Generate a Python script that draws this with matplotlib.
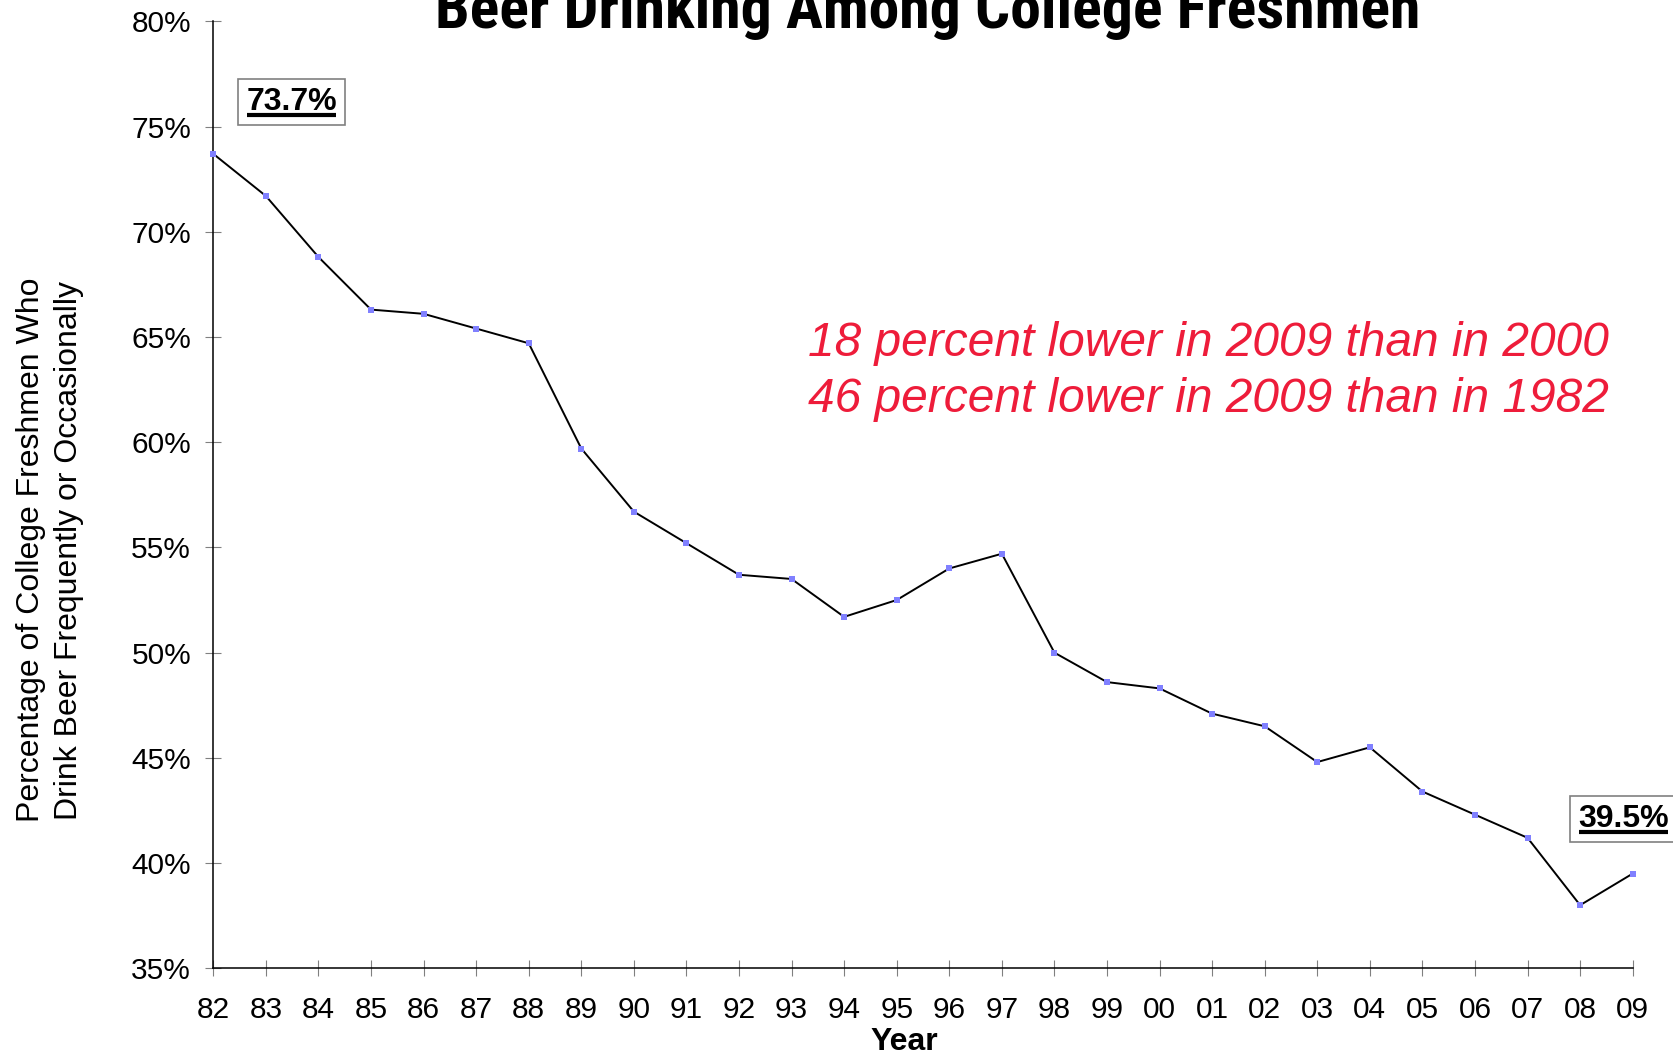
import numpy as np
import matplotlib
matplotlib.use("Agg")
import matplotlib.pyplot as plt
from matplotlib.lines import Line2D
import matplotlib.ticker as mtick

plt.rcParams["font.family"] = ["Liberation Sans", "DejaVu Sans"]

years = ["82", "83", "84", "85", "86", "87", "88", "89", "90", "91",
         "92", "93", "94", "95", "96", "97", "98", "99", "00", "01",
         "02", "03", "04", "05", "06", "07", "08", "09"]
pct = [73.7, 71.7, 68.8, 66.3, 66.1, 65.4, 64.7, 59.7, 56.7, 55.2,
       53.7, 53.5, 51.7, 52.5, 54.0, 54.7, 50.0, 48.6, 48.3, 47.1,
       46.5, 44.8, 45.5, 43.4, 42.3, 41.2, 38.0, 39.5]
y_ticks = [35, 40, 45, 50, 55, 60, 65, 70, 75, 80]
notes = ["18 percent lower in 2009 than in 2000",
         "46 percent lower in 2009 than in 1982"]

W, H = 1674, 1056
fig = plt.figure(figsize=(W / 100, H / 100), dpi=100)
ax = fig.add_axes([213.3 / W, 1 - 968.3 / H, (1632.7 - 213.3) / W, (968.3 - 21.3) / H])

x = np.arange(len(years))
ax.plot(x, pct, color="black", lw=1.4, marker="s", ms=4.8,
        mfc="#8080ff", mec="#8080ff", mew=0, zorder=3, clip_on=False)

ax.set_xlim(0, len(years) - 1)
ax.set_ylim(y_ticks[0], y_ticks[-1])
ax.set_xticks(x)
ax.set_xticklabels(years)
ax.set_yticks(y_ticks)
ax.yaxis.set_major_formatter(mtick.FuncFormatter(lambda v, p: f"{v:.0f}%"))

for side in ["top", "right"]:
    ax.spines[side].set_visible(False)
for side in ["left", "bottom"]:
    ax.spines[side].set_linewidth(1.1)
ax.tick_params(direction="inout", length=12, width=0.8, color="#808080", labelsize=21.5)
ax.tick_params(axis="x", pad=14)
ax.tick_params(axis="y", pad=10)

ax.set_ylabel("Percentage of College Freshmen Who\nDrink Beer Frequently or Occasionally",
              fontsize=23, va="center", ha="center", linespacing=1.35)
ax.yaxis.set_label_coords(-0.115, 0.4415)
ax.set_xlabel("Year", fontsize=23, fontweight="bold", va="center")
ax.xaxis.set_label_coords(0.487, -0.078)

# condensed title; size is fitted to the width it takes in the original
title = fig.text(0.554, 0.9735, "Beer Drinking Among College Freshmen",
                 family=["Roboto Condensed", "Liberation Sans Narrow", "DejaVu Sans Condensed",
                         "Liberation Sans"],
                 fontstretch="condensed", fontweight="bold", fontsize=40,
                 ha="center", va="baseline")

for i, line in enumerate(notes):
    ax.text(0.9833, 0.6600 - i * 0.0592, line, transform=ax.transAxes,
            ha="right", va="center", fontsize=34.5, style="italic", color="#ee1c3a")

box = dict(boxstyle="square,pad=0.26", fc="white", ec="#808080", lw=1.2)
labels = [
    ax.text(1.49, 76.16, f"{pct[0]}%", ha="center", va="center", fontsize=23,
            fontweight="bold", bbox=box, clip_on=False),
    ax.text(26.82, 42.09, f"{pct[-1]}%", ha="center", va="center", fontsize=23,
            fontweight="bold", bbox=box, clip_on=False),
]

fig.canvas.draw()
r = fig.canvas.get_renderer()
tw = title.get_window_extent(renderer=r).width
title.set_fontsize(40 * 984 / tw)

# underline the two value labels
for t in labels:
    bb = t.get_window_extent(renderer=r)
    yb = bb.y0 + 0.07 * bb.height
    fig.add_artist(Line2D([bb.x0 + 1, bb.x1 - 1], [yb, yb], transform=None,
                          color="black", lw=3, solid_capstyle="butt"))

fig.savefig("out.png", dpi=100)
